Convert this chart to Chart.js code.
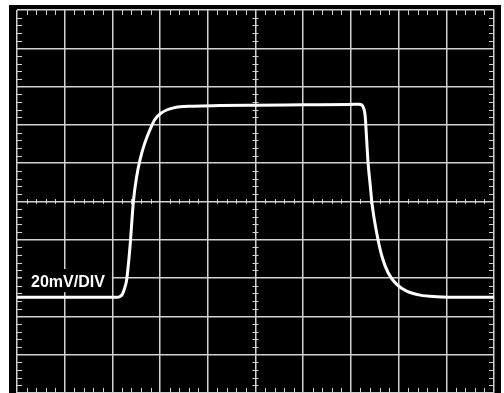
<!DOCTYPE html>
<html>
<head>
<meta charset="utf-8">
<script src="https://cdn.jsdelivr.net/npm/chart.js@4"></script>
<style>
  html, body { margin: 0; padding: 0; background: #fff; }
  canvas { display: block; }
</style>
</head>
<body>
<canvas id="scope" width="504" height="393"></canvas>
<script>
// horizontal position in divisions, vertical in mV (20mV/DIV)
const timeDiv = [0, 2.10, 2.16, 2.21, 2.26, 2.30, 2.37, 2.44, 2.51, 2.58, 2.68, 2.79, 2.89, 3.03, 3.28, 3.70, 4.26, 5.0, 6.0, 7.0, 7.17, 7.23, 7.27, 7.30, 7.33, 7.36, 7.40, 7.45, 7.54, 7.65, 7.78, 7.96, 8.17, 8.45, 8.80, 9.3, 10];
const signalMv = [-50, -50, -49.6, -48.4, -45, -40.7, -23.3, 0, 13.2, 21.9, 30.6, 37.6, 42.8, 46.3, 48.9, 49.8, 50.1, 50.3, 50.5, 50.7, 50.8, 50.4, 48.5, 44.5, 32.4, 20.2, 9.8, -2.5, -16.3, -28.6, -37.2, -43.3, -46.8, -48.9, -49.7, -50, -50];

const xMin = 0, xMax = 10, xStep = 1;
const yMin = -100, yMax = 100, yStep = 20;
const minorPerDiv = 5;
const scaleLabel = "20mV/DIV";

const gridColor = "#d2d2d2";

const scopeDecor = {
  id: "scopeDecor",
  beforeDraw(chart) {
    const { ctx, chartArea: a } = chart;
    ctx.save();
    ctx.fillStyle = "#000";
    ctx.fillRect(a.left - 8, a.top - 5, a.right - a.left + 15, chart.height);
    ctx.restore();
  },
  beforeDatasetsDraw(chart) {
    const { ctx, chartArea: a, scales } = chart;
    const xs = scales.x, ys = scales.y;
    const cx = xs.getPixelForValue((xMin + xMax) / 2);
    const cy = ys.getPixelForValue((yMin + yMax) / 2);
    ctx.save();
    ctx.strokeStyle = gridColor;
    ctx.lineWidth = 1;
    ctx.beginPath();
    const dx = xStep / minorPerDiv;
    for (let i = 1; i < (xMax - xMin) / dx; i++) {
      if (i % minorPerDiv === 0) continue;
      const px = Math.round(xs.getPixelForValue(xMin + i * dx)) + 0.5;
      ctx.moveTo(px, a.top); ctx.lineTo(px, a.top + 5);
      ctx.moveTo(px, a.bottom); ctx.lineTo(px, a.bottom - 5);
      ctx.moveTo(px, cy - 2.5); ctx.lineTo(px, cy + 2.5);
    }
    const dy = yStep / minorPerDiv;
    for (let i = 1; i < (yMax - yMin) / dy; i++) {
      if (i % minorPerDiv === 0) continue;
      const py = Math.round(ys.getPixelForValue(yMin + i * dy)) + 0.5;
      ctx.moveTo(a.left, py); ctx.lineTo(a.left + 5, py);
      ctx.moveTo(a.right, py); ctx.lineTo(a.right - 5, py);
      ctx.moveTo(cx - 3, py); ctx.lineTo(cx + 3, py);
    }
    ctx.stroke();

    // volts/div label on a black patch
    const ly = ys.getPixelForValue(-40);
    ctx.font = "bold 16px 'Liberation Sans', Arial, sans-serif";
    const tw = ctx.measureText(scaleLabel).width;
    const tx = a.left + 14;
    ctx.fillStyle = "#000";
    ctx.fillRect(a.left + 5, ly - 9, tw + 16, 23);
    ctx.fillStyle = "#fff";
    ctx.textBaseline = "alphabetic";
    ctx.fillText(scaleLabel, tx, ly + 9);
    ctx.restore();
  }
};

new Chart(document.getElementById("scope"), {
  type: "line",
  data: {
    datasets: [{
      data: timeDiv.map((t, i) => ({ x: t, y: signalMv[i] })),
      borderColor: "#fff",
      borderWidth: 3,
      pointRadius: 0,
      fill: false,
      cubicInterpolationMode: "monotone",
    }],
  },
  options: {
    responsive: false,
    animation: false,
    devicePixelRatio: 1,
    layout: { padding: { left: 17, top: 10, right: 10, bottom: 0 } },
    plugins: { legend: { display: false }, tooltip: { enabled: false } },
    scales: {
      x: {
        type: "linear",
        min: xMin, max: xMax,
        ticks: { display: false, stepSize: xStep },
        grid: { color: gridColor, lineWidth: 1.5, drawTicks: false },
        border: { display: false },
      },
      y: {
        type: "linear",
        min: yMin, max: yMax,
        ticks: { display: false, stepSize: yStep },
        grid: { color: gridColor, lineWidth: 1.5, drawTicks: false },
        border: { display: false },
      },
    },
  },
  plugins: [scopeDecor],
});
</script>
</body>
</html>
